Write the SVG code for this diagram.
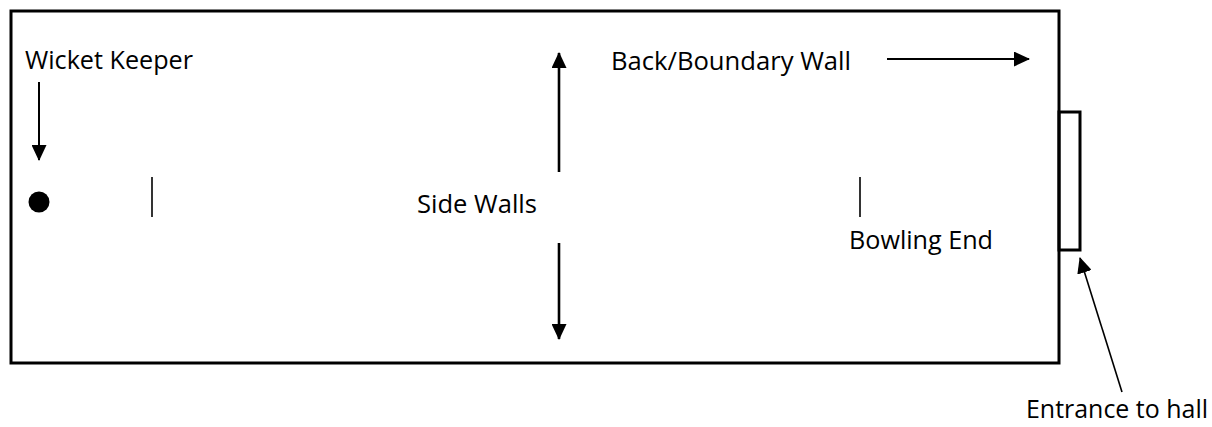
<svg xmlns="http://www.w3.org/2000/svg" width="1212" height="427" viewBox="0 0 1212 427">
  <style>
    .lbl { font-family: "Open Sans", "Liberation Sans", sans-serif; font-size: 25.5px; fill: #000; }
    .wall { fill: none; stroke: #000; stroke-width: 3; }
    .thin { stroke: #000; stroke-width: 1.6; fill: none; }
    .arr { stroke: #000; stroke-width: 2; fill: none; marker-end: url(#head); }
    .arrBold { stroke: #000; stroke-width: 2.6; fill: none; marker-end: url(#head); }
  </style>
  <defs>
    <marker id="head" markerUnits="userSpaceOnUse" markerWidth="16" markerHeight="15" refX="15" refY="7.5" orient="auto">
      <path d="M0,0 L16,7.5 L0,15 Z" fill="#000"/>
    </marker>
  </defs>
  <rect width="1212" height="427" fill="#fff"/>

  <g id="hall">
    <rect class="wall" x="11" y="11" width="1048" height="352"/>
  </g>
  <g id="entrance">
    <rect class="wall" x="1059" y="112" width="21" height="138"/>
  </g>
  <g id="wicket-keeper-dot">
    <circle cx="39" cy="202" r="10.5" fill="#000"/>
  </g>
  <g id="batting-crease">
    <line class="thin" x1="152" y1="177" x2="152" y2="217"/>
  </g>
  <g id="bowling-crease">
    <line class="thin" x1="860" y1="177" x2="860" y2="217"/>
  </g>

  <g id="labels">
    <text class="lbl" x="25" y="69" textLength="168" lengthAdjust="spacingAndGlyphs">Wicket Keeper</text>
    <text class="lbl" x="611" y="70" textLength="240" lengthAdjust="spacingAndGlyphs">Back/Boundary Wall</text>
    <text class="lbl" x="417" y="213" textLength="120" lengthAdjust="spacingAndGlyphs">Side Walls</text>
    <text class="lbl" x="849" y="249" textLength="144" lengthAdjust="spacingAndGlyphs">Bowling End</text>
    <text class="lbl" x="1026" y="418" textLength="182" lengthAdjust="spacingAndGlyphs">Entrance to hall</text>
  </g>

  <g id="connectors">
    <line class="arr" x1="39" y1="82" x2="39" y2="160"/>
    <line class="arrBold" x1="559" y1="172" x2="559" y2="53"/>
    <line class="arrBold" x1="559" y1="243" x2="559" y2="339"/>
    <line class="arr" x1="887" y1="59" x2="1029" y2="59"/>
    <line class="thin" x1="1122" y1="392" x2="1080" y2="258" marker-end="url(#head)"/>
  </g>
</svg>
